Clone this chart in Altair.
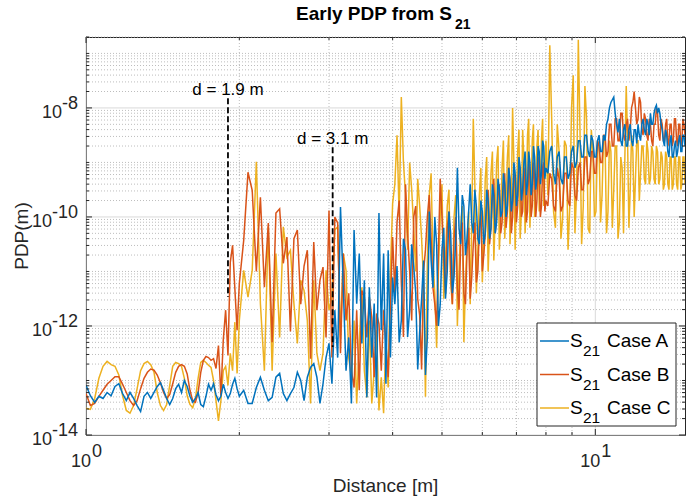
import math
import altair as alt
import pandas as pd

# ---------------- data ----------------
distance = [
    1.00, 1.02, 1.04, 1.06, 1.08, 1.10, 1.12, 1.14, 1.16, 1.18,
    1.20, 1.22, 1.24, 1.26, 1.28, 1.30, 1.32, 1.34, 1.36, 1.38,
    1.40, 1.42, 1.44, 1.46, 1.48, 1.50, 1.52, 1.54, 1.56, 1.58,
    1.60, 1.62, 1.64, 1.66, 1.68, 1.70, 1.72, 1.74, 1.76, 1.78,
    1.80, 1.82, 1.84, 1.86, 1.88, 1.90, 1.92, 1.94, 1.96, 1.98,
    2.00,
    2.04, 2.08, 2.12, 2.16, 2.20, 2.24, 2.28, 2.32, 2.36, 2.40,
    2.44, 2.48, 2.52, 2.56, 2.60, 2.64, 2.68, 2.72, 2.76, 2.80,
    2.84, 2.88, 2.92, 2.96, 3.00, 3.04, 3.08, 3.12, 3.16, 3.20,
    3.24, 3.28, 3.32, 3.36, 3.40, 3.44, 3.48, 3.52, 3.56, 3.60,
    3.64, 3.68, 3.72, 3.76, 3.80, 3.84, 3.88, 3.92, 3.96, 4.00,
    4.04, 4.08, 4.12, 4.16, 4.20, 4.24, 4.28, 4.32, 4.36, 4.40,
    4.44, 4.48, 4.52, 4.56, 4.60, 4.64, 4.68, 4.72, 4.76, 4.80,
    4.84, 4.88, 4.92, 4.96, 5.00, 5.04, 5.08, 5.12, 5.16, 5.20,
    5.24, 5.28, 5.32, 5.36, 5.40, 5.44, 5.48, 5.52, 5.56, 5.60,
    5.64, 5.68, 5.72, 5.76, 5.80, 5.84, 5.88, 5.92, 5.96, 6.00,
    6.04, 6.08, 6.12, 6.16, 6.20, 6.24, 6.28, 6.32, 6.36, 6.40,
    6.44, 6.48, 6.52, 6.56, 6.60, 6.64, 6.68, 6.72, 6.76, 6.80,
    6.84, 6.88, 6.92, 6.96, 7.00, 7.04, 7.08, 7.12, 7.16, 7.20,
    7.24, 7.28, 7.32, 7.36, 7.40, 7.44, 7.48, 7.52, 7.56, 7.60,
    7.64, 7.68, 7.72, 7.76, 7.80, 7.84, 7.88, 7.92, 7.96, 8.00,
    8.07, 8.14, 8.21, 8.28, 8.35, 8.42, 8.49, 8.56, 8.63, 8.70,
    8.77, 8.84, 8.91, 8.98, 9.05, 9.12, 9.19, 9.26, 9.33, 9.40,
    9.47, 9.54, 9.61, 9.68, 9.75, 9.82, 9.89, 9.96, 10.03, 10.10,
    10.17, 10.24, 10.31, 10.38, 10.45, 10.52, 10.59, 10.66, 10.73, 10.80,
    10.87, 10.94, 11.01, 11.08, 11.15, 11.22, 11.29, 11.36, 11.43, 11.50,
    11.57, 11.64, 11.71, 11.78, 11.85, 11.92, 11.99, 12.06, 12.13, 12.20,
    12.27, 12.34, 12.41, 12.48, 12.55, 12.62, 12.69, 12.76, 12.83, 12.90,
    12.97, 13.04, 13.11, 13.18, 13.25, 13.32, 13.39, 13.46, 13.53, 13.60,
    13.67, 13.74, 13.81, 13.88, 13.95, 14.02, 14.09, 14.16, 14.23, 14.30,
    14.37, 14.44, 14.51, 14.58, 14.65, 14.72, 14.79, 14.86, 14.93, 15.00,
]

# log10 of PDP, one value per distance
case_a_log = [
    -13.09, -13.28, -13.40, -13.29, -13.33, -13.22, -13.28, -13.11, -13.06, -13.24,
    -13.37, -13.22, -13.33, -13.46, -13.57, -13.29, -13.22, -13.33, -13.22, -13.11,
    -13.04, -13.18, -13.33, -13.44, -13.33, -13.15, -13.07, -13.22, -13.00, -13.11,
    -13.29, -13.40, -13.33, -13.22, -13.44, -13.48, -13.29, -13.07, -13.18, -13.06,
    -13.26, -13.37, -13.29, -13.07, -13.22, -13.33, -13.24, -13.07, -12.96, -13.15,
    -13.29,
    -13.18, -13.42, -13.42, -13.13, -12.94, -13.18, -13.37, -13.31, -12.94, -12.87,
    -13.24, -13.37, -13.24, -13.13, -12.85, -13.00, -13.37, -12.94, -12.76, -12.69,
    -12.94, -13.42, -13.06, -12.58, -12.32, -13.06, -11.71, -12.58, -9.82, -11.29,
    -12.82, -12.21, -13.42, -10.24, -11.59, -10.67, -12.32, -11.16, -13.31, -11.29,
    -12.58, -11.59, -13.31, -9.93, -12.08, -10.67, -13.06, -10.61, -12.58, -11.11,
    -11.6, -10.9, -12.3, -11.9, -10.4, -10.6, -12.2, -11.7, -10.5, -10.9,
    -11.4, -12.8, -12.1, -11.5, -10.8, -12.9, -12.2, -9.9, -10.8, -11.3,
    -10.0, -10.5, -12.0, -11.6, -10.6, -10.2, -11.5, -11.0, -9.9, -10.3,
    -11.4, -11.1, -10.4, -9.1, -10.2, -10.5, -9.6, -9.8, -10.7, -10.4,
    -9.9, -9.4, -10.1, -10.3, -9.5, -9.8, -10.4, -10.5, -9.7, -9.9,
    -10.5, -10.3, -9.5, -9.7, -10.4, -10.2, -9.4, -9.6, -10.3, -10.1,
    -9.3, -9.5, -10.0, -9.9, -9.2, -9.4, -10.0, -9.8, -9.1, -9.3,
    -9.9, -9.7, -9.0, -9.2, -9.8, -9.6, -8.9, -9.1, -9.7, -9.5,
    -9.0, -8.8, -9.6, -9.4, -8.8, -9.0, -9.6, -9.4, -8.7, -8.9,
    -9.5, -9.3, -8.7, -8.8, -9.4, -9.2, -8.6, -8.7, -9.3, -9.1,
    -9.2, -8.8, -8.7, -9.2, -9.4, -8.9, -8.8, -9.3, -9.4, -8.9,
    -8.9, -9.3, -9.2, -8.8, -8.7, -9.1, -9.0, -8.6, -8.6, -8.9,
    -8.9, -8.5, -8.5, -8.8, -8.9, -8.5, -8.6, -8.9, -8.9, -8.6,
    -8.5, -8.8, -8.8, -8.5, -8.6, -8.3, -8.2, -8.0, -7.9, -7.85,
    -7.8, -8.1, -8.3, -8.45, -8.2, -8.6, -8.7, -8.4, -8.3, -8.7,
    -8.7, -8.4, -8.3, -8.6, -8.7, -8.4, -8.4, -8.65, -8.3, -8.5,
    -8.6, -8.3, -8.2, -8.4, -8.5, -8.2, -8.3, -8.5, -8.1, -8.3,
    -8.3, -8.1, -8.0, -7.95, -8.1, -8.0, -8.1, -8.3, -8.4, -8.6,
    -8.7, -8.4, -8.5, -8.8, -8.9, -8.6, -8.5, -8.9, -8.9, -8.7,
    -8.6, -8.9, -8.8, -8.6, -8.5, -8.8, -8.8, -8.5, -8.5, -8.7,
]

case_b_log = [
    -13.24, -13.46, -13.42, -13.29, -13.18, -13.07, -13.00, -12.93, -12.93, -13.07,
    -13.22, -13.37, -13.46, -13.37, -13.15, -12.96, -12.85, -12.79, -12.81, -12.90,
    -13.04, -13.22, -13.33, -13.26, -13.06, -12.85, -12.74, -12.71, -12.74, -12.88,
    -13.18, -13.37, -13.40, -13.22, -12.85, -12.63, -12.56, -12.58, -12.63, -12.60,
    -12.78, -12.36, -13.28, -12.26, -11.71, -12.54, -10.83, -10.52, -11.31, -12.08,
    -11.22,
    -10.43, -9.18, -9.51, -11.0, -9.64, -11.29, -10.11, -12.3, -9.93, -9.85,
    -10.85, -10.37, -12.1, -10.4, -10.24, -11.6, -10.9, -10.61, -12.6, -10.46,
    -11.71, -11.16, -10.92, -12.21, -9.88, -12.58, -10.0, -10.11, -12.50, -10.67,
    -11.90, -11.40, -12.82, -13.13, -11.71, -13.18, -11.35, -11.47, -12.21, -11.47,
    -11.84, -12.94, -11.77, -11.96, -12.82, -11.71, -12.32, -12.94, -11.59, -10.37,
    -11.4, -10.1, -9.7, -11.2, -12.2, -9.4, -10.3, -11.0, -11.9, -10.0,
    -9.8, -11.5, -11.8, -12.8, -11.0, -10.6, -10.0, -9.6, -10.4, -11.3,
    -11.6, -12.0, -10.6, -9.3, -10.0, -10.8, -11.4, -10.2, -9.9, -11.0,
    -11.6, -10.4, -10.0, -11.3, -11.7, -10.5, -10.1, -11.4, -11.6, -10.6,
    -10.2, -11.5, -11.1, -10.5, -10.1, -11.2, -11.0, -10.2, -9.9, -11.0,
    -10.7, -10.3, -9.8, -9.5, -10.5, -10.2, -9.6, -9.3, -10.3, -10.0,
    -9.6, -9.4, -10.3, -10.1, -9.4, -9.2, -10.2, -9.9, -9.1, -9.4,
    -10.3, -10.0, -9.2, -9.3, -10.1, -9.8, -9.0, -9.2, -10.0, -9.9,
    -9.1, -9.3, -10.1, -9.9, -9.0, -9.2, -10.0, -9.8, -9.0, -9.3,
    -10.0, -9.7, -8.9, -9.3, -10.0, -9.8, -9.1, -9.0, -9.9, -9.7,
    -9.8, -9.2, -9.3, -9.8, -9.9, -9.1, -9.3, -9.9, -9.8, -9.2,
    -9.2, -9.7, -9.8, -9.0, -9.1, -9.6, -9.7, -9.1, -9.0, -9.5,
    -9.5, -8.9, -8.9, -9.4, -9.3, -8.8, -8.8, -9.2, -9.2, -8.6,
    -8.7, -9.0, -9.0, -8.5, -8.5, -8.9, -8.8, -8.3, -8.3, -8.7,
    -8.7, -8.2, -8.2, -8.6, -8.6, -8.1, -8.1, -8.5, -8.6, -8.3,
    -8.2, -8.6, -8.4, -8.0, -7.9, -7.7, -8.0, -8.3, -8.2, -7.8,
    -7.9, -8.4, -8.5, -8.1, -8.2, -8.5, -8.6, -8.2, -8.3, -8.6,
    -8.7, -8.3, -8.3, -8.0, -8.1, -8.5, -8.6, -8.2, -8.3, -8.6,
    -8.6, -8.3, -8.2, -8.7, -8.6, -8.3, -8.3, -8.7, -8.6, -8.2,
    -8.2, -8.6, -8.7, -8.3, -8.3, -8.7, -8.6, -8.2, -8.3, -8.5,
]

case_c_log = [
    -13.51, -13.53, -13.33, -12.96, -12.74, -12.65, -12.71, -12.74, -12.90, -13.28,
    -13.55, -13.60, -13.46, -13.15, -12.82, -12.69, -12.65, -12.71, -12.85, -13.22,
    -13.46, -13.55, -13.44, -13.09, -12.74, -12.67, -12.69, -12.74, -12.96, -13.28,
    -13.44, -13.50, -13.33, -12.96, -12.67, -12.63, -12.67, -12.72, -12.76, -13.00,
    -13.37, -13.74, -13.37, -12.82, -12.74, -13.09, -12.50, -12.82, -11.93, -12.87,
    -11.90,
    -10.98, -11.47, -10.98, -8.99, -11.59, -12.82, -10.18, -12.82, -10.67, -12.21,
    -10.18, -10.74, -10.61, -11.59, -12.32, -11.16, -11.35, -11.90, -13.42, -11.16,
    -12.50, -12.82, -12.50, -10.98, -11.71, -11.47, -10.24, -10.18, -12.21, -10.67,
    -10.98, -12.58, -12.94, -11.90, -13.42, -12.32, -11.29, -12.82, -13.31, -11.90,
    -13.42, -12.82, -12.08, -13.55, -12.94, -13.60, -12.21, -13.13, -10.98, -9.75,
    -9.4, -8.5, -10.0, -7.8, -9.0, -9.6, -10.6, -9.0, -9.5, -10.2,
    -11.0, -9.3, -9.8, -10.4, -11.2, -13.3, -10.8, -9.6, -9.2, -10.8,
    -11.4, -12.4, -11.0, -10.0, -9.4, -11.5, -10.8, -9.8, -9.5, -11.2,
    -11.6, -10.0, -9.6, -12.0, -11.0, -10.2, -9.8, -12.3, -11.2, -10.4,
    -9.9, -11.6, -10.1, -8.2, -9.4, -11.4, -10.6, -9.6, -9.1, -11.2,
    -10.4, -9.3, -8.9, -11.0, -10.2, -9.2, -8.8, -10.8, -10.0, -9.0,
    -8.7, -10.6, -10.1, -9.1, -8.6, -10.4, -9.8, -8.9, -8.5, -10.5,
    -9.7, -8.0, -9.0, -10.6, -9.6, -8.8, -8.4, -10.4, -9.9, -8.4,
    -8.9, -10.3, -9.7, -8.5, -8.2, -10.2, -9.5, -8.6, -8.3, -10.0,
    -9.4, -8.7, -8.4, -9.9, -9.3, -8.6, -8.2, -9.8, -9.2, -8.6,
    -9.6, -6.85, -8.2, -9.9, -10.2, -8.3, -8.8, -10.4, -10.0, -8.6,
    -8.7, -10.6, -9.8, -8.0, -7.4, -10.3, -9.5, -6.75, -8.4, -10.5,
    -9.8, -7.6, -8.2, -10.2, -10.3, -8.4, -8.8, -10.0, -9.9, -8.6,
    -8.7, -10.1, -9.6, -8.5, -8.6, -10.3, -9.9, -8.6, -8.8, -10.2,
    -9.5, -8.7, -8.7, -10.4, -10.1, -8.9, -9.1, -10.3, -8.9, -7.6,
    -8.6, -10.2, -9.5, -8.5, -8.8, -10.0, -9.3, -8.6, -8.6, -9.7,
    -9.2, -8.7, -8.7, -9.3, -9.4, -8.6, -8.8, -9.4, -9.3, -8.7,
    -8.8, -9.3, -9.4, -8.7, -8.8, -9.4, -9.3, -8.8, -8.9, -9.5,
    -9.4, -8.8, -8.9, -9.4, -9.5, -8.9, -8.9, -9.5, -9.4, -8.9,
    -8.9, -9.4, -9.5, -8.9, -8.9, -9.5, -9.4, -8.9, -8.9, -9.4,
]

series_names = ["Case A", "Case B", "Case C"]
series_colors = ["#0072BD", "#D95319", "#EDB120"]

marker_d = [1.9, 3.05]
marker_top = [1.5e-8, 1.9e-9]
marker_bottom = [3.4e-12, 4.1e-13]
marker_text = ["d = 1.9 m", "d = 3.1 m"]
marker_text_y = [1.75e-8, 2.2e-9]

y_label_values = [1e-14, 1e-12, 1e-10, 1e-8]
y_label_exps = ["-14", "-12", "-10", "-8"]
x_label_values = [1, 10]
x_label_exps = ["0", "1"]

x_tick_values = [1, 2, 3, 4, 5, 6, 7, 8, 9, 10]
y_tick_values = [k * 10.0 ** n for n in range(-14, -6) for k in range(1, 10)
                 if k * 10.0 ** n <= 2.0001e-7]

# ---------------- layout constants ----------------
W, H = 599, 398
FONT = "Liberation Sans"
AX = "#262626"
TICK_FS = 18

assert len(case_a_log) == len(distance) == len(case_b_log) == len(case_c_log)

rows = []
for name, vals in zip(series_names, [case_a_log, case_b_log, case_c_log]):
    for d, v in zip(distance, vals):
        rows.append({"distance": d, "pdp": 10.0 ** v, "series": name})
df = pd.DataFrame(rows)

x_scale = alt.Scale(type="log", domain=[1, 15], nice=False)
y_scale = alt.Scale(type="log", domain=[1e-14, 2e-7], nice=False)
color_scale = alt.Scale(domain=series_names, range=series_colors)

xt = pd.DataFrame({"v": x_tick_values,
                   "major": [v in (1, 10) for v in x_tick_values]})
yt = pd.DataFrame({"v": y_tick_values,
                   "major": [abs(math.log10(v) - round(math.log10(v))) < 0.01
                             and round(math.log10(v)) % 2 == 0 for v in y_tick_values]})

layers = []

# grid (major solid, minor dotted)
for is_major in (False, True):
    style = dict(color="#d9d9d9", strokeWidth=1) if is_major else \
        dict(color="#bdbdbd", strokeWidth=1, strokeDash=[1, 2])
    layers.append(alt.Chart(xt[xt["major"] == is_major]).mark_rule(**style).encode(
        x=alt.X("v:Q", scale=x_scale, axis=None), y=alt.value(0), y2=alt.value(H)))
    layers.append(alt.Chart(yt[yt["major"] == is_major]).mark_rule(**style).encode(
        y=alt.Y("v:Q", scale=y_scale, axis=None), x=alt.value(0), x2=alt.value(W)))

# lines: yellow at bottom, blue on top
for name in reversed(series_names):
    layers.append(
        alt.Chart(df).transform_filter(alt.datum.series == name)
        .mark_line(strokeWidth=1.5, clip=True)
        .encode(
            x=alt.X("distance:Q", scale=x_scale, axis=None),
            y=alt.Y("pdp:Q", scale=y_scale, axis=None),
            color=alt.Color("series:N", scale=color_scale, legend=None),
        )
    )

# dashed markers and their labels
mdf = pd.DataFrame({"d": marker_d, "top": marker_top, "bottom": marker_bottom,
                    "label": marker_text, "ly": marker_text_y})
layers.append(
    alt.Chart(mdf).mark_rule(color="black", strokeWidth=1.8, strokeDash=[6, 3])
    .encode(x=alt.X("d:Q", scale=x_scale), y=alt.Y("top:Q", scale=y_scale),
            y2="bottom:Q")
)
layers.append(
    alt.Chart(mdf).mark_text(font=FONT, fontSize=17, color="black",
                             align="center", baseline="alphabetic")
    .encode(x=alt.X("d:Q", scale=x_scale), y=alt.Y("ly:Q", scale=y_scale),
            text="label:N")
)

# inward ticks on the four sides
for is_major, L in [(True, 6), (False, 3)]:
    xs = xt[xt["major"] == is_major]
    ys = yt[yt["major"] == is_major]
    layers.append(alt.Chart(xs).mark_rule(color=AX, strokeWidth=1).encode(
        x=alt.X("v:Q", scale=x_scale), y=alt.value(H), y2=alt.value(H - L)))
    layers.append(alt.Chart(xs).mark_rule(color=AX, strokeWidth=1).encode(
        x=alt.X("v:Q", scale=x_scale), y=alt.value(0), y2=alt.value(L)))
    layers.append(alt.Chart(ys).mark_rule(color=AX, strokeWidth=1).encode(
        y=alt.Y("v:Q", scale=y_scale), x=alt.value(0), x2=alt.value(L)))
    layers.append(alt.Chart(ys).mark_rule(color=AX, strokeWidth=1).encode(
        y=alt.Y("v:Q", scale=y_scale), x=alt.value(W), x2=alt.value(W - L)))

# y tick labels "10" with raised exponent
for val, ex in zip(y_label_values, y_label_exps):
    ew = sum(0.333 if c == "-" else 0.556 for c in ex) * TICK_FS
    one = pd.DataFrame({"v": [val], "b": ["10"], "e": [ex]})
    layers.append(alt.Chart(one).mark_text(font=FONT, fontSize=TICK_FS, color=AX,
                                           align="right", baseline="alphabetic", dy=10)
                  .encode(x=alt.value(-8 - ew), y=alt.Y("v:Q", scale=y_scale), text="b:N"))
    layers.append(alt.Chart(one).mark_text(font=FONT, fontSize=TICK_FS, color=AX,
                                           align="right", baseline="alphabetic", dy=1)
                  .encode(x=alt.value(-8), y=alt.Y("v:Q", scale=y_scale), text="e:N"))

# x tick labels
xl = pd.DataFrame({"v": x_label_values, "b": ["10"] * len(x_label_values), "e": x_label_exps})
layers.append(alt.Chart(xl).mark_text(font=FONT, fontSize=TICK_FS, color=AX,
                                      align="right", baseline="alphabetic", dx=5)
              .encode(x=alt.X("v:Q", scale=x_scale), y=alt.value(430), text="b:N"))
layers.append(alt.Chart(xl).mark_text(font=FONT, fontSize=TICK_FS, color=AX,
                                      align="left", baseline="alphabetic", dx=6)
              .encode(x=alt.X("v:Q", scale=x_scale), y=alt.value(420), text="e:N"))

one_row = pd.DataFrame({"k": [0]})


def label(text, x, y, size, align="left", weight="normal", color="black", angle=0,
          baseline="alphabetic"):
    return alt.Chart(one_row).mark_text(
        text=text, font=FONT, fontSize=size, fontWeight=weight, color=color,
        align=align, baseline=baseline, angle=angle,
    ).encode(x=alt.value(x), y=alt.value(y))


# axis titles
layers.append(label("Distance [m]", W / 2, 455, 19, align="center", color=AX))
layers.append(label("PDP(m)", -64, H / 2, 19, align="center", color=AX, angle=270,
                    baseline="middle"))

# chart title with subscript
layers.append(label("Early PDP from S", 366, -17, 19, align="right", weight="bold"))
layers.append(label("21", 369, -8, 14, align="left", weight="bold"))

# legend box
layers.append(
    alt.Chart(one_row).mark_rect(fill="white", stroke=AX, strokeWidth=1)
    .encode(x=alt.value(451), x2=alt.value(590), y=alt.value(286), y2=alt.value(389))
)
for i, (name, col) in enumerate(zip(series_names, series_colors)):
    ly = 304 + 33.5 * i
    layers.append(alt.Chart(one_row).mark_rule(color=col, strokeWidth=1.5)
                  .encode(x=alt.value(454), x2=alt.value(483), y=alt.value(ly)))
    layers.append(label("S", 484, ly + 6, 19))
    layers.append(label("21", 497, ly + 15, 15.5))
    layers.append(label(name, 521, ly + 6, 19))

chart = alt.layer(*layers).properties(
    width=W, height=H,
    autosize=alt.AutoSizeParams(type="none"),
    padding={"left": 86, "top": 37, "right": 14, "bottom": 66},
    background="white",
).configure_view(stroke=AX, strokeWidth=1)

chart.save("out.html", embed_options={"renderer": "svg", "actions": False})
